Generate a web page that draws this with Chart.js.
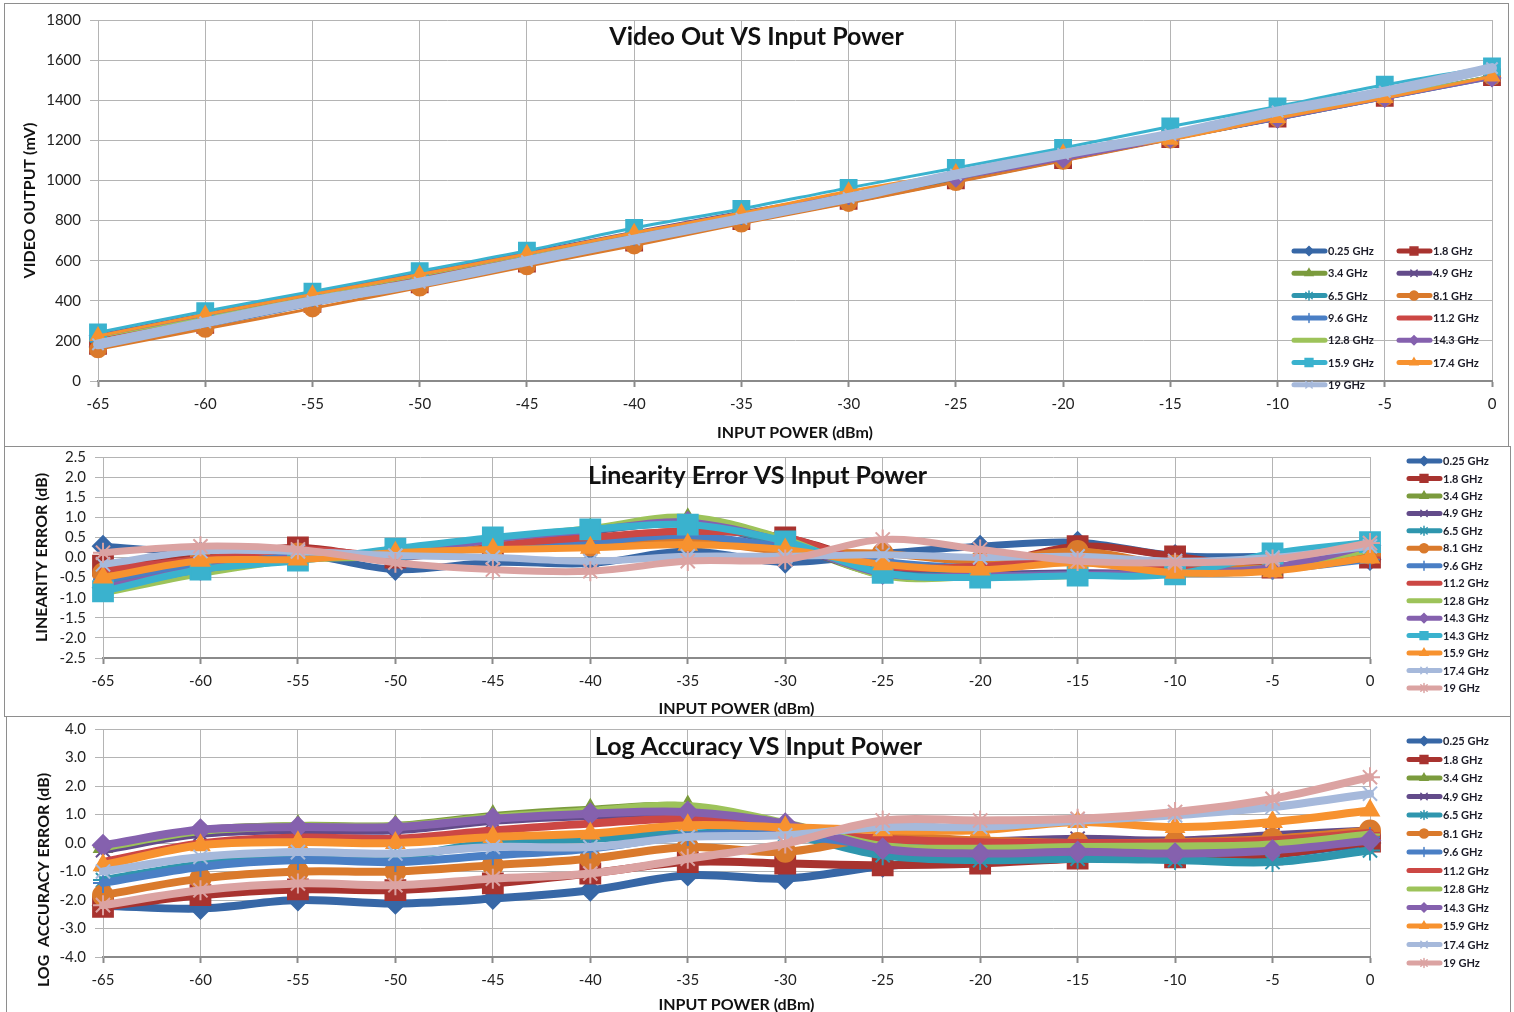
<!DOCTYPE html>
<html>
<head>
<meta charset="utf-8">
<title>Video Out / Linearity / Log Accuracy VS Input Power</title>
<script src="https://cdn.jsdelivr.net/npm/chart.js@4.4.1/dist/chart.umd.min.js"></script>
<style>
  html, body { margin: 0; padding: 0; background: #fff; }
  body { width: 1514px; height: 1012px; position: relative; overflow: hidden; }
  .panel { position: absolute; border: 1px solid #8e8e8e; background: #fff; }
  .panel canvas { position: absolute; left: 0; top: 0; }
</style>
</head>
<body>
<div class="panel" style="left:4px;top:3px;width:1503px;height:442px"><canvas id="videoChart" width="1503" height="442"></canvas></div>
<div class="panel" style="left:4px;top:446px;width:1505px;height:269px"><canvas id="linChart" width="1505" height="269"></canvas></div>
<div class="panel" style="left:6px;top:716px;width:1503px;height:300px"><canvas id="logChart" width="1503" height="300"></canvas></div>
<script>
// input power (dBm)
const xValues = [-65, -60, -55, -50, -45, -40, -35, -30, -25, -20, -15, -10, -5, 0];

const freqVideo = ['0.25 GHz', '1.8 GHz', '3.4 GHz', '4.9 GHz', '6.5 GHz', '8.1 GHz', '9.6 GHz',
  '11.2 GHz', '12.8 GHz', '14.3 GHz', '15.9 GHz', '17.4 GHz', '19 GHz'];
const freqLin = ['0.25 GHz', '1.8 GHz', '3.4 GHz', '4.9 GHz', '6.5 GHz', '8.1 GHz', '9.6 GHz',
  '11.2 GHz', '12.8 GHz', '14.3 GHz', '14.3 GHz', '15.9 GHz', '17.4 GHz', '19 GHz'];
const freqLog = ['0.25 GHz', '1.8 GHz', '3.4 GHz', '4.9 GHz', '6.5 GHz', '8.1 GHz', '9.6 GHz',
  '11.2 GHz', '12.8 GHz', '14.3 GHz', '15.9 GHz', '17.4 GHz', '19 GHz'];

// video output (mV)
const v025 = [170, 272, 380, 478, 580, 685, 790, 890, 995, 1100, 1205, 1305, 1410, 1512];
const v18  = [175, 280, 385, 482, 586, 690, 798, 898, 1000, 1102, 1206, 1308, 1412, 1515];
const v34  = [222, 325, 430, 528, 632, 735, 835, 925, 1010, 1108, 1210, 1312, 1416, 1520];
const v49  = [230, 334, 438, 536, 640, 742, 842, 930, 1012, 1110, 1210, 1312, 1414, 1518];
const v65  = [195, 300, 405, 505, 608, 712, 815, 915, 1005, 1104, 1206, 1306, 1408, 1510];
const v81  = [158, 260, 362, 466, 572, 676, 785, 888, 992, 1098, 1204, 1310, 1414, 1518];
const v96  = [200, 305, 410, 510, 612, 715, 818, 918, 1010, 1108, 1210, 1312, 1416, 1520];
const v112 = [215, 318, 425, 522, 625, 728, 830, 922, 1008, 1106, 1208, 1310, 1414, 1518];
const v128 = [220, 322, 428, 526, 630, 732, 834, 925, 1010, 1108, 1210, 1312, 1416, 1520];
const v143 = [226, 330, 434, 532, 636, 738, 838, 926, 1010, 1106, 1206, 1306, 1408, 1510];
const v159 = [242, 348, 446, 548, 650, 763, 858, 963, 1062, 1162, 1269, 1369, 1477, 1568];
const v174 = [224, 332, 432, 531, 634, 739, 838, 946, 1037, 1135, 1203, 1311, 1411, 1518];
const v19  = [183, 292, 398, 490, 598, 705, 808, 913, 1029, 1132, 1228, 1344, 1443, 1560];

// linearity error (dB)
const l025  = [0.28, 0.12, 0.1, -0.3, -0.12, -0.15, 0.16, -0.12, 0.1, 0.28, 0.38, 0.05, 0.02, -0.05];
const l18   = [-0.2, 0.0, 0.25, 0.0, 0.3, 0.48, 0.65, 0.5, -0.15, -0.2, 0.28, 0.03, -0.25, 0.0];
const l34   = [-0.8, -0.3, 0.0, 0.05, 0.4, 0.7, 0.95, 0.35, -0.42, -0.45, -0.4, -0.4, -0.3, 0.2];
const l49   = [-0.7, -0.25, 0.02, 0.03, 0.38, 0.65, 0.85, 0.3, -0.35, -0.42, -0.38, -0.38, -0.28, 0.25];
const l65   = [-0.7, -0.28, 0.0, 0.05, 0.45, 0.68, 0.82, 0.35, -0.38, -0.45, -0.42, -0.4, -0.3, 0.3];
const l81   = [-0.4, -0.05, 0.1, 0.05, 0.25, 0.3, 0.4, 0.15, 0.1, -0.1, 0.16, -0.2, -0.25, 0.1];
const l96   = [-0.55, -0.15, 0.05, 0.0, 0.3, 0.38, 0.55, 0.25, -0.1, -0.25, -0.1, -0.3, -0.3, -0.05];
const l112  = [-0.3, -0.05, 0.2, 0.05, 0.32, 0.5, 0.65, 0.5, -0.2, -0.22, -0.05, -0.3, -0.3, 0.0];
const l128  = [-0.88, -0.4, -0.05, 0.05, 0.45, 0.72, 1.0, 0.45, -0.45, -0.48, -0.45, -0.4, -0.25, 0.2];
const l143  = [-0.75, -0.3, 0.0, 0.08, 0.45, 0.68, 0.88, 0.38, -0.4, -0.45, -0.42, -0.38, -0.25, 0.3];
const l143b = [-0.84, -0.3, -0.08, 0.22, 0.5, 0.7, 0.82, 0.4, -0.38, -0.5, -0.45, -0.42, 0.1, 0.38];
const l159  = [-0.5, -0.08, -0.05, 0.12, 0.2, 0.24, 0.32, 0.2, -0.17, -0.3, -0.13, -0.38, -0.34, 0.0];
const l174  = [-0.17, 0.16, 0.15, 0.05, 0.0, -0.09, 0.03, 0.03, 0.07, 0.0, 0.03, -0.09, 0.0, 0.28];
const l19   = [0.12, 0.28, 0.2, -0.13, -0.3, -0.34, -0.09, -0.05, 0.45, 0.2, -0.09, -0.13, -0.05, 0.36];

// log accuracy error (dB)
const a025 = [-2.2, -2.3, -2.0, -2.12, -1.95, -1.66, -1.13, -1.25, -0.82, -0.6, -0.45, -0.45, -0.4, 0.0];
const a18  = [-2.24, -1.83, -1.63, -1.65, -1.42, -1.07, -0.67, -0.72, -0.78, -0.72, -0.55, -0.5, -0.4, 0.05];
const a34  = [-0.14, 0.44, 0.6, 0.6, 0.95, 1.17, 1.28, 0.65, -0.15, -0.3, -0.14, -0.2, -0.1, 0.27];
const a49  = [-0.25, 0.32, 0.45, 0.45, 0.78, 0.95, 1.0, 0.55, 0.0, 0.05, 0.15, 0.09, 0.27, 0.44];
const a65  = [-1.3, -0.75, -0.5, -0.5, 0.03, 0.15, 0.33, 0.3, -0.43, -0.6, -0.55, -0.6, -0.67, -0.26];
const a81  = [-1.83, -1.25, -1.0, -1.0, -0.78, -0.55, -0.14, -0.31, 0.2, 0.09, 0.0, 0.03, 0.15, 0.44];
const a96  = [-1.4, -0.84, -0.6, -0.67, -0.43, -0.2, 0.25, 0.3, -0.1, -0.2, -0.2, -0.3, -0.2, 0.2];
const a112 = [-0.67, -0.02, 0.19, 0.15, 0.44, 0.68, 0.85, 0.5, 0.15, 0.03, 0.0, 0.0, 0.1, 0.35];
const a128 = [-0.15, 0.42, 0.58, 0.58, 0.9, 1.12, 1.3, 0.7, -0.1, -0.2, -0.14, -0.12, -0.05, 0.3];
const a143 = [-0.08, 0.47, 0.56, 0.56, 0.85, 1.03, 1.09, 0.68, -0.2, -0.37, -0.31, -0.37, -0.26, 0.09];
const a159 = [-0.78, -0.08, 0.03, 0.0, 0.21, 0.33, 0.62, 0.55, 0.45, 0.45, 0.74, 0.56, 0.74, 1.14];
const a174 = [-1.0, -0.49, -0.32, -0.37, -0.14, -0.14, 0.21, 0.27, 0.56, 0.56, 0.78, 0.97, 1.26, 1.73];
const a19  = [-2.18, -1.66, -1.42, -1.48, -1.25, -1.07, -0.55, -0.02, 0.79, 0.79, 0.85, 1.09, 1.55, 2.31];

// series looks (excel-ish palette + marker)
const S = {
  f025: { c: '#3767A6', p: 'rectRot' },
  f18:  { c: '#A8332F', p: 'rect' },
  f34:  { c: '#7B9B3D', p: 'triangle' },
  f49:  { c: '#634B8A', p: 'crossRot' },
  f65:  { c: '#2F96AE', p: 'star' },
  f81:  { c: '#DA7A2C', p: 'circle' },
  f96:  { c: '#4A7FC5', p: 'cross' },
  f112: { c: '#CC4744', p: 'dash' },
  f128: { c: '#9DC35A', p: 'line' },
  f143: { c: '#8561AE', p: 'rectRot' },
  aqua: { c: '#3AB2CE', p: 'rect' },
  oran: { c: '#F7922F', p: 'triangle' },
  grey: { c: '#A6B9DB', p: 'crossRot' },
  pink: { c: '#DBA3A2', p: 'star' }
};
const videoStyles = [S.f025, S.f18, S.f34, S.f49, S.f65, S.f81, S.f96, S.f112, S.f128, S.f143, S.aqua, S.oran, S.grey];
const linStyles = [S.f025, S.f18, S.f34, S.f49, S.f65, S.f81, S.f96, S.f112, S.f128, S.f143, S.aqua, S.oran, S.grey, S.pink];
const logStyles = [S.f025, S.f18, S.f34, S.f49, S.f65, S.f81, S.f96, S.f112, S.f128, S.f143, S.oran, S.grey, S.pink];

Chart.defaults.font.family = "Lato, 'Open Sans', sans-serif";
Chart.defaults.color = '#222';

function makeSets(labels, series, styles, lineW, r, wideIdx, wideW) {
  return series.map((vals, i) => ({
    label: labels[i],
    data: vals.map((y, k) => ({ x: xValues[k], y: y })),
    borderColor: styles[i].c,
    backgroundColor: styles[i].c,
    borderWidth: i === wideIdx ? wideW : lineW,
    pointStyle: styles[i].p,
    pointRadius: styles[i].p === 'rect' ? r * 1.4 : r,
    pointBackgroundColor: styles[i].c,
    pointBorderColor: styles[i].c,
    pointBorderWidth: 2,
    tension: 0.35,
    borderJoinStyle: 'round',
    borderCapStyle: 'round',
    clip: false,
    order: series.length - i
  }));
}

// title, odd side title and the legend are painted on the canvas
const panelText = {
  id: 'panelText',
  afterDraw(chart, args, o) {
    const ctx = chart.ctx;
    ctx.save();
    ctx.fillStyle = '#111';
    ctx.textAlign = 'center';
    ctx.textBaseline = 'middle';
    ctx.font = "bold 25px Lato";
    ctx.fillText(o.title, chart.width / 2, o.titleY);
    if (o.side) {
      ctx.save();
      ctx.translate(o.side.x, o.side.y);
      ctx.rotate(-Math.PI / 2);
      ctx.font = "bold 16px Lato";
      ctx.fillText(o.side.text, 0, 0);
      ctx.restore();
    }
    // legend
    const lg = o.legend;
    ctx.font = "bold 11px Lato";
    ctx.textAlign = 'left';
    chart.data.datasets.forEach((ds, i) => {
      const col = i % lg.cols, row = Math.floor(i / lg.cols);
      const x = lg.x + col * lg.colW, y = lg.y + row * lg.rowH;
      ctx.strokeStyle = ds.borderColor;
      ctx.lineWidth = 5;
      ctx.lineCap = 'round';
      ctx.beginPath();
      ctx.moveTo(x + 2, y);
      ctx.lineTo(x + 33, y);
      ctx.stroke();
      if (Chart.helpers && Chart.helpers.drawPoint) {
        ctx.fillStyle = ds.borderColor;
        ctx.lineWidth = 1.5;
        Chart.helpers.drawPoint(ctx, {
          pointStyle: ds.pointStyle, rotation: 0,
          radius: ds.pointStyle === 'rect' ? 5.5 : 4.5, borderWidth: 1.5
        }, x + 17, y);
      }
      ctx.fillStyle = '#1c1c28';
      ctx.fillText(ds.label, x + 36, y + 0.5);
    });
    ctx.restore();
  }
};

function options(cfg) {
  return {
    responsive: false,
    animation: false,
    events: [],
    layout: { autoPadding: false, padding: { top: cfg.padTop, right: cfg.padRight, left: 0, bottom: 0 } },
    plugins: {
      legend: { display: false },
      tooltip: { enabled: false },
      panelText: cfg.text
    },
    scales: {
      x: {
        type: 'linear', min: -65, max: 0,
        ticks: { stepSize: 5, padding: 8, font: { size: 15 }, color: '#222', autoSkip: false },
        grid: { color: '#b4b4b4', tickLength: 6, tickColor: '#8a8a8a', tickWidth: 2 },
        border: { color: '#8a8a8a', width: 2 },
        title: { display: true, text: 'INPUT POWER (dBm)', font: { size: 16, weight: 'bold' }, color: '#111',
                 padding: { top: 0, bottom: cfg.xTitlePad } },
        afterFit: s => { s.height = cfg.xHeight; s.paddingLeft = 0; s.paddingRight = 0; }
      },
      y: {
        min: cfg.yMin, max: cfg.yMax,
        ticks: { stepSize: cfg.yStep, padding: 9, font: { size: 15 }, color: '#222', callback: cfg.yFmt, autoSkip: false },
        grid: { color: '#b4b4b4', tickLength: 8 },
        border: { color: '#b4b4b4' },
        title: { display: !!cfg.yTitle, text: cfg.yTitle, font: { size: 16, weight: 'bold' }, color: '#111',
                 padding: { top: cfg.yTitlePad, bottom: 0 } },
        afterFit: s => { s.width = cfg.yWidth; s.paddingTop = 0; s.paddingBottom = 0; }
      }
    }
  };
}

new Chart(document.getElementById('videoChart'), {
  type: 'line',
  data: { datasets: makeSets(freqVideo,
    [v025, v18, v34, v49, v65, v81, v96, v112, v128, v143, v159, v174, v19], videoStyles, 3, 8, 12, 10) },
  options: options({
    padTop: 16, padRight: 16, xHeight: 65, yWidth: 93, xTitlePad: 4,
    yMin: 0, yMax: 1800, yStep: 200, yFmt: v => v, yTitle: 'VIDEO OUTPUT (mV)', yTitlePad: 15,
    text: { title: 'Video Out VS Input Power', titleY: 33,
            legend: { x: 1287, y: 247, cols: 2, colW: 105, rowH: 22.3 } }
  }),
  plugins: [panelText]
});

new Chart(document.getElementById('linChart'), {
  type: 'line',
  data: { datasets: makeSets(freqLin,
    [l025, l18, l34, l49, l65, l81, l96, l112, l128, l143, l143b, l159, l174, l19], linStyles, 7, 10, -1, 7) },
  options: options({
    padTop: 10, padRight: 140, xHeight: 58, yWidth: 98, xTitlePad: -2,
    yMin: -2.5, yMax: 2.5, yStep: 0.5, yFmt: v => v.toFixed(1), yTitle: 'LINEARITY ERROR (dB)', yTitlePad: 27,
    text: { title: 'Linearity Error VS Input Power', titleY: 29,
            legend: { x: 1402, y: 14, cols: 1, colW: 0, rowH: 17.46 } }
  }),
  plugins: [panelText]
});

new Chart(document.getElementById('logChart'), {
  type: 'line',
  data: { datasets: makeSets(freqLog,
    [a025, a18, a34, a49, a65, a81, a96, a112, a128, a143, a159, a174, a19], logStyles, 8, 10, -1, 8) },
  options: options({
    padTop: 12, padRight: 140, xHeight: 60, yWidth: 96, xTitlePad: 3,
    yMin: -4, yMax: 4, yStep: 1, yFmt: v => v.toFixed(1), yTitle: '', yTitlePad: 0,
    text: { title: 'Log Accuracy VS Input Power', titleY: 30,
            side: { text: 'LOG  ACCURACY ERROR (dB)', x: 37, y: 163 },
            legend: { x: 1400, y: 24, cols: 1, colW: 0, rowH: 18.5 } }
  }),
  plugins: [panelText]
});
</script>
</body>
</html>
